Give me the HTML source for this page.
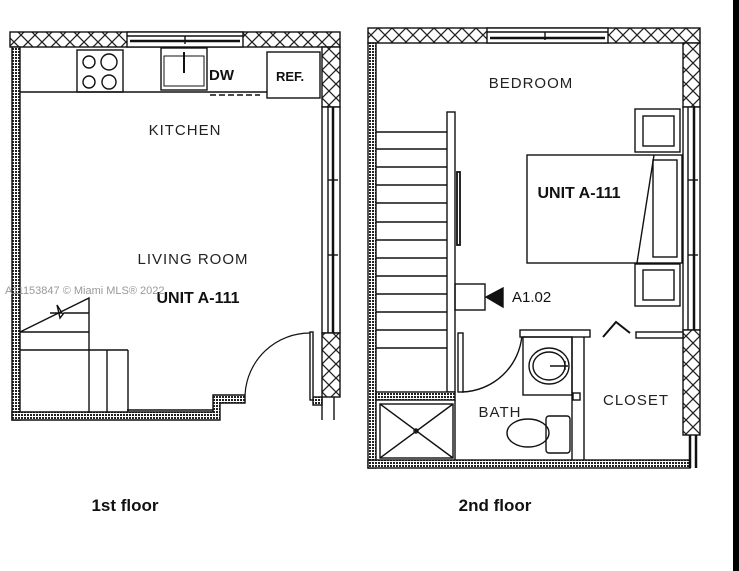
<!DOCTYPE html>
<html><head><meta charset="utf-8"><style>
html,body{margin:0;padding:0;background:#fff;width:739px;height:571px;overflow:hidden}
svg{display:block}
text{font-family:"Liberation Sans",sans-serif}
.h{font-size:15px;letter-spacing:1px;fill:#222}
.b{font-weight:bold;fill:#111}
</style></head><body>
<svg width="739" height="571" viewBox="0 0 739 571" xmlns="http://www.w3.org/2000/svg">
<defs>
<pattern id="x" width="14" height="14" patternUnits="userSpaceOnUse">
<rect width="14" height="14" fill="#fff"/>
<path d="M0 0L14 14M14 0L0 14" stroke="#222" stroke-width="1.3"/>
</pattern>
<pattern id="d" width="3" height="3" patternUnits="userSpaceOnUse">
<rect width="3" height="3" fill="#fff"/><rect width="2" height="2" fill="#222"/>
</pattern>
</defs>
<g stroke="#111" fill="none" stroke-width="1.4">
<rect x="10" y="32" width="330" height="15" fill="url(#x)"/>
<rect x="127" y="32" width="116" height="15" fill="#fff"/>
<line x1="127" y1="36" x2="243" y2="36"/><line x1="130" y1="41" x2="240" y2="41" stroke-width="2.5"/><line x1="185" y1="36" x2="185" y2="44"/>
<rect x="12" y="47" width="8" height="373" fill="url(#d)"/>
<rect x="322" y="47" width="18" height="60" fill="url(#x)"/>
<rect x="322" y="107" width="18" height="226" fill="#fff"/>
<line x1="328" y1="107" x2="328" y2="333"/><line x1="333" y1="107" x2="333" y2="333" stroke-width="2.5"/>
<line x1="328" y1="180" x2="338" y2="180"/><line x1="328" y1="255" x2="338" y2="255"/>
<rect x="322" y="333" width="18" height="64" fill="url(#x)"/>
<line x1="322" y1="397" x2="322" y2="420"/><line x1="334" y1="397" x2="334" y2="420"/>
<rect x="313" y="397" width="9" height="8" fill="url(#d)"/>
<path d="M12 412H213V395H245V403H220V420H12Z" fill="url(#d)"/>
<line x1="20" y1="92" x2="267" y2="92"/>
<rect x="77" y="50" width="46" height="42"/>
<circle cx="89" cy="62" r="6"/><circle cx="109" cy="62" r="8"/><circle cx="89" cy="82" r="6"/><circle cx="109" cy="82" r="7"/>
<rect x="161" y="48" width="46" height="42"/><rect x="164" y="56" width="40" height="30" stroke-width="1"/>
<line x1="184" y1="52" x2="184" y2="73" stroke-width="2"/>
<rect x="267" y="52" width="53" height="46"/>
<line x1="210" y1="95" x2="260" y2="95" stroke-dasharray="6 3"/>
<path d="M20 332L89 298V413M50 313H62L57 305L60 318L64 313H89M20 332H89M20 350H128M107 350V413M128 350V412M127 410H213"/>
<rect x="310" y="332" width="3" height="68" fill="#fff"/>
<path d="M310 333A65 65 0 0 0 245 395" stroke-width="1.2"/>

<rect x="368" y="28" width="332" height="15" fill="url(#x)"/>
<rect x="487" y="28" width="121" height="15" fill="#fff"/>
<line x1="487" y1="32" x2="608" y2="32"/><line x1="490" y1="38" x2="605" y2="38" stroke-width="2.5"/><line x1="545" y1="32" x2="545" y2="40"/>
<rect x="368" y="43" width="8" height="425" fill="url(#d)"/>
<rect x="368" y="460" width="322" height="8" fill="url(#d)"/>
<rect x="683" y="43" width="17" height="64" fill="url(#x)"/>
<rect x="683" y="107" width="17" height="223" fill="#fff"/>
<line x1="688" y1="107" x2="688" y2="330"/><line x1="694" y1="107" x2="694" y2="330" stroke-width="2.5"/>
<line x1="688" y1="180" x2="698" y2="180"/><line x1="688" y1="255" x2="698" y2="255"/>
<rect x="683" y="330" width="17" height="105" fill="url(#x)"/>
<line x1="690" y1="435" x2="690" y2="468" stroke-width="2.5"/><line x1="696" y1="435" x2="696" y2="468" stroke-width="2.5"/>
<path d="M376 132H447M376 149H447M376 167H447M376 185H447M376 203H447M376 222H447M376 240H447M376 258H447M376 276H447M376 294H447M376 312H447M376 330H447M376 348H447"/>
<rect x="447" y="112" width="8" height="280" fill="#fff"/>
<rect x="457" y="172" width="3" height="73" fill="#fff" stroke-width="1.8"/>
<rect x="376" y="392" width="79" height="8" fill="url(#d)"/>
<rect x="380" y="404" width="73" height="54"/>
<path d="M380 404L453 458M453 404L380 458"/><circle cx="416" cy="431" r="2"/>
<line x1="455" y1="400" x2="455" y2="460"/>
<rect x="455" y="284" width="30" height="26"/>
<polygon points="503,288 503,307 486,297" fill="#111"/>
<rect x="458" y="333" width="5" height="59" fill="#fff"/>
<path d="M522 335A62 62 0 0 1 462 392"/>
<rect x="520" y="330" width="70" height="7" fill="#fff"/>
<rect x="523" y="337" width="49" height="58"/>
<ellipse cx="549" cy="366" rx="20" ry="18"/><ellipse cx="549" cy="366" rx="16" ry="14"/>
<path d="M550 366H568M565 361V370"/>
<line x1="572" y1="337" x2="572" y2="460"/><line x1="584" y1="337" x2="584" y2="460"/>
<rect x="573" y="393" width="7" height="7" fill="#fff"/>
<rect x="546" y="416" width="24" height="37" rx="3"/>
<ellipse cx="528" cy="433" rx="21" ry="14"/>
<rect x="636" y="332" width="47" height="6" fill="#fff"/>
<path d="M603 337L616 322L630 333" stroke-width="2"/>
<rect x="527" y="155" width="155" height="108"/>
<rect x="653" y="160" width="24" height="97"/>
<line x1="654" y1="155" x2="637" y2="263"/>
<rect x="635" y="109" width="45" height="43" fill="#fff"/><rect x="643" y="116" width="31" height="30"/>
<rect x="635" y="264" width="45" height="42" fill="#fff"/><rect x="643" y="270" width="31" height="30"/>
</g>
<rect x="733" y="0" width="6" height="571" fill="#000"/>
<g>
<text x="209" y="80" class="b" font-size="15">DW</text>
<text x="276" y="81" class="b" font-size="13">REF.</text>
<text x="185" y="135" class="h" text-anchor="middle">KITCHEN</text>
<text x="193" y="264" class="h" text-anchor="middle">LIVING ROOM</text>
<text x="198" y="303" class="b" font-size="16" text-anchor="middle">UNIT A-111</text>
<text x="5" y="294" font-size="11" fill="#999">A11153847 © Miami MLS® 2022</text>
<text x="531" y="88" class="h" text-anchor="middle">BEDROOM</text>
<text x="579" y="198" class="b" font-size="16" text-anchor="middle">UNIT A-111</text>
<text x="512" y="302" font-size="15" fill="#111">A1.02</text>
<text x="500" y="417" class="h" text-anchor="middle">BATH</text>
<text x="636" y="405" class="h" text-anchor="middle">CLOSET</text>
<text x="125" y="511" class="b" font-size="17" text-anchor="middle">1st floor</text>
<text x="495" y="511" class="b" font-size="17" text-anchor="middle">2nd floor</text>
</g>
</svg>
</body></html>
